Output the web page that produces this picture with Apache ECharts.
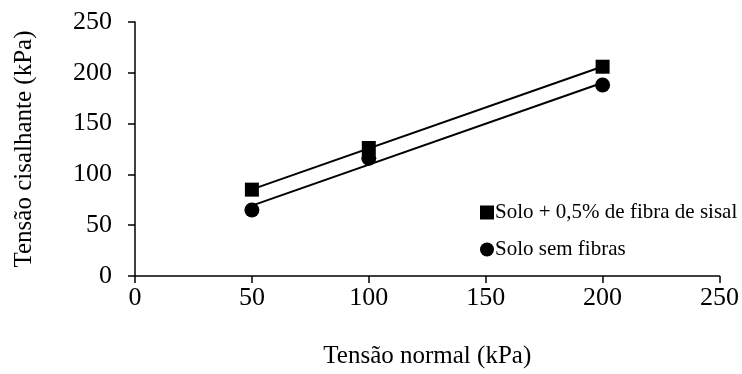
<!DOCTYPE html>
<html>
<head>
<meta charset="utf-8">
<script src="https://cdn.jsdelivr.net/npm/echarts@6/dist/echarts.min.js"></script>
<style>
html,body{margin:0;padding:0;background:#fff;}
#chart{width:742px;height:374px;}
</style>
</head>
<body>
<div id="chart"></div>
<script>
var normalStress = [50, 100, 200];
var withFiber = [85, 126, 206];
var noFiber = [65, 116, 188];
var seriesNames = ['Solo + 0,5% de fibra de sisal', 'Solo sem fibras'];
var xTitle = 'Tensão normal (kPa)';
var yTitle = 'Tensão cisalhante (kPa)';

function fit(xs, ys) {
  var n = xs.length, mx = 0, my = 0;
  for (var i = 0; i < n; i++) { mx += xs[i]; my += ys[i]; }
  mx /= n; my /= n;
  var sxx = 0, sxy = 0;
  for (var j = 0; j < n; j++) { sxx += (xs[j]-mx)*(xs[j]-mx); sxy += (xs[j]-mx)*(ys[j]-my); }
  var b = sxy / sxx, a = my - b * mx;
  var x0 = xs[0], x1 = xs[n-1];
  return [[x0, a + b*x0], [x1, a + b*x1]];
}
function pts(xs, ys) { return xs.map(function (x, i) { return [x, ys[i]]; }); }

var font = 'Liberation Serif';
var chart = echarts.init(document.getElementById('chart'));
chart.setOption({
  animation: false,
  backgroundColor: '#fff',
  textStyle: { fontFamily: font, color: '#000' },
  grid: { left: 135, right: 19, top: 22, bottom: 96 },
  legend: {
    orient: 'vertical', left: 475, top: 197,
    itemWidth: 14, itemHeight: 14, itemGap: 16,
    data: [{ name: seriesNames[0], icon: 'rect' }, { name: seriesNames[1], icon: 'circle' }],
    itemStyle: { opacity: 1 },
    textStyle: { fontFamily: font, fontSize: 21, color: '#000', padding: [0, 0, 0, -4] }
  },
  xAxis: {
    type: 'value', min: 0, max: 250, interval: 50,
    name: xTitle, nameLocation: 'middle', nameGap: 68,
    nameTextStyle: { fontFamily: font, fontSize: 25, color: '#000' },
    axisLine: { show: true, onZero: false, lineStyle: { color: '#000', width: 1.5 } },
    axisTick: { show: true, length: 7, lineStyle: { color: '#000', width: 1.5 } },
    axisLabel: { margin: 9, fontFamily: font, fontSize: 26, color: '#000' },
    splitLine: { show: false }
  },
  yAxis: {
    type: 'value', min: 0, max: 250, interval: 50,
    name: yTitle, nameLocation: 'middle', nameGap: 98,
    nameTextStyle: { fontFamily: font, fontSize: 25, color: '#000' },
    axisLine: { show: true, onZero: false, lineStyle: { color: '#000', width: 1.5 } },
    axisTick: { show: true, length: 7, lineStyle: { color: '#000', width: 1.5 } },
    axisLabel: { margin: 23, fontFamily: font, fontSize: 26, color: '#000' },
    splitLine: { show: false }
  },
  series: [
    { name: 'trend1', type: 'line', data: fit(normalStress, withFiber), symbol: 'none',
      lineStyle: { color: '#000', width: 2 }, z: 2, silent: true },
    { name: 'trend2', type: 'line', data: fit(normalStress, noFiber), symbol: 'none',
      lineStyle: { color: '#000', width: 2 }, z: 2, silent: true },
    { name: seriesNames[1], type: 'scatter', data: pts(normalStress, noFiber),
      symbol: 'circle', symbolSize: 15, itemStyle: { color: '#000', opacity: 1 }, z: 3 },
    { name: seriesNames[0], type: 'scatter', data: pts(normalStress, withFiber),
      symbol: 'rect', symbolSize: 14, itemStyle: { color: '#000', opacity: 1 }, z: 4 }
  ]
});
</script>
</body>
</html>
